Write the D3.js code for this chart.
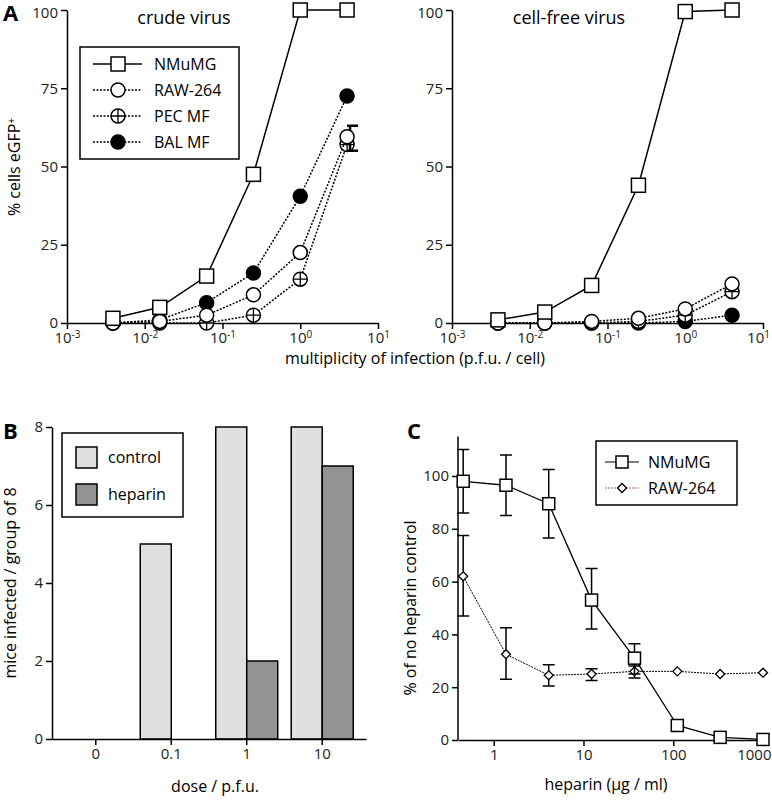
<!DOCTYPE html>
<html>
<head>
<meta charset="utf-8">
<script src="https://cdn.jsdelivr.net/npm/d3@7"></script>
<style>
  body { margin: 0; background: #fff; }
  svg { font-family: "Open Sans", "DejaVu Sans", sans-serif; }
  .axis path, .axis line { stroke: #000; stroke-width: 1.5px; }
</style>
</head>
<body>
<svg id="fig" width="772" height="800"></svg>
<script>
// panel A: multiplicity of infection
const moi = [0.0039, 0.0156, 0.0625, 0.25, 1, 4];
const crudeNMuMG = [1.5, 5, 15, 47.5, 100, 100];
const crudeRAW = [0, 0.5, 2.5, 9, 22.5, 59.5];
const crudePEC = [0, 0, 0, 2.5, 14, 57];
const crudeBAL = [0, 1, 6.5, 16, 40.5, 72.5];
const freeNMuMG = [1, 3.5, 12, 44, 99.5, 100];
const freeRAW = [0, 0, 0.5, 1.5, 4.5, 12.5];
const freePEC = [0, 0, 0, 0.5, 2.5, 10];
const freeBAL = [0, 0, 0, 0, 0.5, 2.5];
const yTicksA = [0, 25, 50, 75, 100];

// panel B: mice infected
const doses = ["0", "0.1", "1", "10"];
const control = [0, 5, 8, 8];
const heparin = [0, 0, 2, 7];

// panel C: heparin dose
const hep = [0.457, 1.37, 4.1, 12.3, 37, 111, 333, 1000];
const cNMuMG = [98, 96.5, 89.5, 53, 31, 5.5, 1, 0.2];
const cNMuMGlo = [86, 85, 76.5, 42, 25, null, null, null];
const cNMuMGhi = [110, 108, 102.5, 65, 36.5, null, null, null];
const cRAW = [62, 32.5, 24.5, 25, 26, 26, 25, 25.5];
const cRAWlo = [47, 23, 20.5, 22.5, 23.5, null, null, null];
const cRAWhi = [77.5, 42.5, 28.5, 27, 28, null, null, null];

const svg = d3.select("#fig");

// bigger tick labels than d3's default
function styleAxis(g) {
  g.attr("font-family", null);
  g.selectAll(".tick text").attr("fill", "#222").style("font-size", "15px");
}

function supTicks(g) {
  g.selectAll(".tick text").each(function(d) {
    const e = Math.round(Math.log10(d));
    const t = d3.select(this).text("10");
    t.append("tspan").attr("dy", "-0.5em").style("font-size", "10px").text(e);
  });
}

function marker(g, type, x, y, r) {
  if (type === "square") {
    g.append("rect").attr("x", x - r).attr("y", y - r).attr("width", 2 * r).attr("height", 2 * r)
      .attr("fill", "#fff").attr("stroke", "#000").attr("stroke-width", 1.5);
  } else if (type === "diamond") {
    g.append("path").attr("d", `M${x},${y - r}L${x + r},${y}L${x},${y + r}L${x - r},${y}Z`)
      .attr("fill", "#fff").attr("stroke", "#000").attr("stroke-width", 1.3);
  } else {
    g.append("circle").attr("cx", x).attr("cy", y).attr("r", r)
      .attr("fill", type === "filled" ? "#000" : "#fff").attr("stroke", "#000").attr("stroke-width", 1.5);
    if (type === "cross") {
      g.append("path").attr("d", `M${x - r},${y}H${x + r}M${x},${y - r}V${y + r}`)
        .attr("stroke", "#000").attr("stroke-width", 1.3);
    }
  }
}

function panelA(x0, title, series) {
  const x = d3.scaleLog().domain([0.001, 10]).range([x0, x0 + 311]);
  const y = d3.scaleLinear().domain([0, 100]).range([323, 10]);
  svg.append("g").attr("class", "axis").attr("transform", "translate(0,323)")
    .call(d3.axisBottom(x).tickValues([0.001, 0.01, 0.1, 1, 10]).tickSize(6).tickSizeOuter(0))
    .call(styleAxis).call(supTicks)
    .call(g => g.selectAll(".tick text").filter(d => d === 10).attr("dx", x0 > 100 ? -5 : 0));
  svg.append("g").attr("class", "axis").attr("transform", `translate(${x0},0)`)
    .call(d3.axisLeft(y).tickValues(yTicksA).tickSize(6).tickSizeOuter(0))
    .call(styleAxis)
    .call(g => g.selectAll(".tick text").filter(d => d === 100).attr("dy", "0.5em"));
  svg.append("text").attr("x", x0 + 117).attr("y", 24).attr("text-anchor", "middle")
    .attr("font-size", 18).text(title);
  series.slice().reverse().forEach(s => {
    const line = d3.line().x((d, i) => x(moi[i])).y(d => y(d));
    svg.append("path").attr("d", line(s.v)).attr("fill", "none").attr("stroke", "#000")
      .attr("stroke-width", 1.5).attr("stroke-dasharray", s.dash ? "2,1.5" : null);
    if (s.err) {
      const ex = x(moi[5]) + 3;
      svg.append("path").attr("d", `M${ex},${y(s.err[0])}V${y(s.err[1])}M${ex - 3},${y(s.err[0])}H${ex + 8}M${ex - 3},${y(s.err[1])}H${ex + 8}`)
        .attr("stroke", "#000").attr("stroke-width", 2.5).attr("fill", "none");
    }
    s.v.forEach((d, i) => marker(svg, s.m, x(moi[i]), y(d), 7));
  });
}

panelA(67, "crude virus", [
  { v: crudeNMuMG, m: "square" },
  { v: crudeRAW, m: "open", dash: true, err: [63, 55] },
  { v: crudePEC, m: "cross", dash: true },
  { v: crudeBAL, m: "filled", dash: true }
]);
panelA(452, "cell-free virus", [
  { v: freeNMuMG, m: "square" },
  { v: freeRAW, m: "open", dash: true },
  { v: freePEC, m: "cross", dash: true },
  { v: freeBAL, m: "filled", dash: true }
]);

// legend A
const legA = [["NMuMG", "square", false], ["RAW-264", "open", true], ["PEC MF", "cross", true], ["BAL MF", "filled", true]];
svg.append("rect").attr("x", 80).attr("y", 47).attr("width", 159).attr("height", 112)
  .attr("fill", "#fff").attr("stroke", "#000").attr("stroke-width", 1.5);
legA.forEach((l, i) => {
  const ly = 64 + i * 26;
  svg.append("path").attr("d", `M93,${ly}H142`).attr("stroke", "#000").attr("stroke-width", 1.5)
    .attr("stroke-dasharray", l[2] ? "2,1.5" : null);
  marker(svg, l[1], 118, ly, 7);
  svg.append("text").attr("x", 154).attr("y", ly + 6).attr("font-size", 16).text(l[0]);
});

svg.append("text").attr("x", 20).attr("y", 167).attr("transform", "rotate(-90,20,167)")
  .attr("text-anchor", "middle").attr("font-size", 16).text("% cells eGFP")
  .append("tspan").attr("dy", "-0.5em").attr("font-size", "10px").text("+");
svg.append("text").attr("x", 415).attr("y", 364).attr("text-anchor", "middle").attr("font-size", 16)
  .text("multiplicity of infection (p.f.u. / cell)");
svg.append("text").attr("x", 3).attr("y", 21).attr("font-size", 22).attr("font-weight", "bold").text("A");

// panel B
const xb = d3.scaleBand().domain(doses).range([52, 366]).paddingInner(0).paddingOuter(0.08);
const yb = d3.scaleLinear().domain([0, 8]).range([739, 427]);
const bw = 31;
doses.forEach((d, i) => {
  const cx = xb(d) + xb.bandwidth() / 2;
  if (control[i] > 0)
    svg.append("rect").attr("x", cx - bw).attr("y", yb(control[i])).attr("width", bw)
      .attr("height", yb(0) - yb(control[i])).attr("fill", "#e0e0e0").attr("stroke", "#000").attr("stroke-width", 1.5);
  if (heparin[i] > 0)
    svg.append("rect").attr("x", cx).attr("y", yb(heparin[i])).attr("width", bw)
      .attr("height", yb(0) - yb(heparin[i])).attr("fill", "#939396").attr("stroke", "#000").attr("stroke-width", 1.5);
});
svg.append("g").attr("class", "axis").attr("transform", "translate(0,739)")
  .call(d3.axisBottom(xb).tickSize(6).tickSizeOuter(0)).call(styleAxis);
svg.append("g").attr("class", "axis").attr("transform", "translate(52,0)")
  .call(d3.axisLeft(yb).tickValues([0, 2, 4, 6, 8]).tickSize(6).tickSizeOuter(0)).call(styleAxis);
svg.append("rect").attr("x", 62).attr("y", 433).attr("width", 121).attr("height", 84)
  .attr("fill", "#fff").attr("stroke", "#000").attr("stroke-width", 1.5);
[["control", "#e0e0e0"], ["heparin", "#939396"]].forEach((l, i) => {
  const ly = 447 + i * 37;
  svg.append("rect").attr("x", 76).attr("y", ly).attr("width", 21).attr("height", 21)
    .attr("fill", l[1]).attr("stroke", "#000").attr("stroke-width", 1.5);
  svg.append("text").attr("x", 108).attr("y", ly + 16).attr("font-size", 16).text(l[0]);
});
svg.append("text").attr("x", 16).attr("y", 583).attr("transform", "rotate(-90,16,583)")
  .attr("text-anchor", "middle").attr("font-size", 16).text("mice infected / group of 8");
svg.append("text").attr("x", 215).attr("y", 792).attr("text-anchor", "middle").attr("font-size", 16)
  .text("dose / p.f.u.");
svg.append("text").attr("x", 3).attr("y", 439).attr("font-size", 22).attr("font-weight", "bold").text("B");

// panel C
const xc = d3.scaleLog().domain([0.4, 1000]).range([458, 763]);
const yc = d3.scaleLinear().domain([0, 100]).range([740, 476]);
svg.append("g").attr("class", "axis").attr("transform", "translate(0,740)")
  .call(d3.axisBottom(xc).tickValues([1, 10, 100, 1000]).tickFormat(d3.format("d")).tickSize(6).tickSizeOuter(0))
  .call(styleAxis)
  .call(g => g.selectAll(".tick text").filter(d => d === 1000).attr("text-anchor", "end").attr("dx", 8));
svg.append("g").attr("class", "axis").attr("transform", "translate(458,0)")
  .call(d3.axisLeft(yc).tickValues([0, 20, 40, 60, 80, 100]).tickSize(6).tickSizeOuter(0))
  .call(styleAxis)
  .call(g => g.select(".domain").attr("d", `M0,${yc(115)}V${yc(0)}`));

function seriesC(v, lo, hi, m, dash) {
  hep.forEach((h, i) => {
    if (lo[i] == null) return;
    const ex = xc(h);
    svg.append("path").attr("d", `M${ex},${yc(lo[i])}V${yc(hi[i])}M${ex - 6},${yc(lo[i])}H${ex + 6}M${ex - 6},${yc(hi[i])}H${ex + 6}`)
      .attr("stroke", "#000").attr("stroke-width", 1.5).attr("fill", "none");
  });
  svg.append("path").attr("d", d3.line().x((d, i) => xc(hep[i])).y(d => yc(d))(v))
    .attr("fill", "none").attr("stroke", "#000").attr("stroke-width", dash ? 1 : 1.3)
    .attr("stroke-dasharray", dash ? "2,1" : null);
  v.forEach((d, i) => marker(svg, m, xc(hep[i]), yc(d), m === "square" ? 6 : 4.5));
}
seriesC(cRAW, cRAWlo, cRAWhi, "diamond", true);
seriesC(cNMuMG, cNMuMGlo, cNMuMGhi, "square", false);

svg.append("rect").attr("x", 596).attr("y", 441).attr("width", 141).attr("height", 64)
  .attr("fill", "#fff").attr("stroke", "#000").attr("stroke-width", 1.5);
svg.append("path").attr("d", "M605,462H639").attr("stroke", "#000").attr("stroke-width", 1.2);
marker(svg, "square", 622, 462, 6);
svg.append("text").attr("x", 648).attr("y", 468).attr("font-size", 16).text("NMuMG");
svg.append("path").attr("d", "M605,488H639").attr("stroke", "#b06050").attr("stroke-width", 1)
  .attr("stroke-dasharray", "2,1");
marker(svg, "diamond", 622, 488, 4.5);
svg.append("text").attr("x", 648).attr("y", 494).attr("font-size", 16).text("RAW-264");

svg.append("text").attr("x", 416).attr("y", 608).attr("transform", "rotate(-90,416,608)")
  .attr("text-anchor", "middle").attr("font-size", 16).text("% of no heparin control");
svg.append("text").attr("x", 606).attr("y", 790).attr("text-anchor", "middle").attr("font-size", 16)
  .text("heparin (\u03bcg / ml)");
svg.append("text").attr("x", 407).attr("y", 439).attr("font-size", 22).attr("font-weight", "bold").text("C");
</script>
</body>
</html>
